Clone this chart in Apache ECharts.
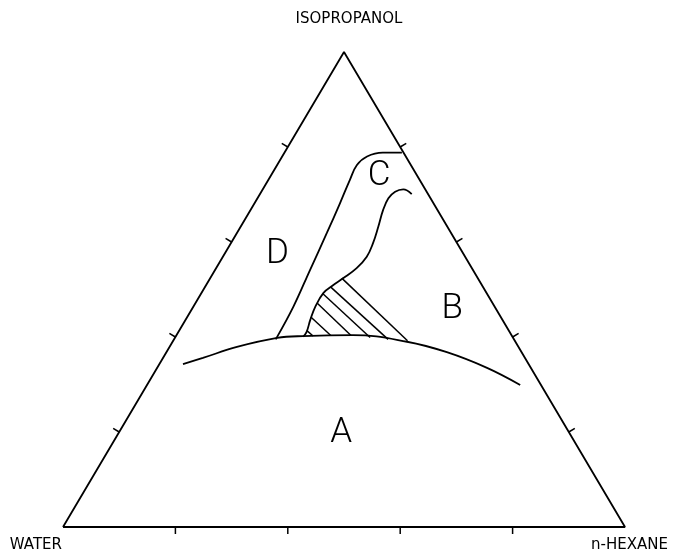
<!DOCTYPE html>
<html>
<head>
<meta charset="utf-8">
<title>Isopropanol / water / n-hexane phase diagram</title>
<script src="https://cdn.jsdelivr.net/npm/echarts@6/dist/echarts.min.js"></script>
<style>
  html, body { margin: 0; padding: 0; background: #ffffff; }
  #chart { width: 679px; height: 557px; }
</style>
</head>
<body>
<div id="chart"></div>
<script>
// Compositions are given as [n-hexane %, isopropanol %]; water is the remainder.
const vertexNames = ['WATER', 'n-HEXANE', 'ISOPROPANOL'];
const vertexComps = [[0, 0], [100, 0], [0, 100]];
const tickValues = [20, 40, 60, 80];

// Lower two-phase boundary (binodal), water side to hexane side
const binodal = [
  [4.2, 34.3], [7.1, 35.6], [12.0, 37.9], [18.2, 39.8], [22.6, 40.2],
  [31.4, 40.4], [41.7, 39.0], [49.9, 36.8], [58.7, 33.5], [66.4, 29.9]
];

// Boundary between region D and regions C/B, from the binodal upwards
const boundaryD = [
  [18.1, 39.5], [17.8, 46.4], [16.9, 54.1], [16.0, 61.9], [15.2, 68.2],
  [14.5, 73.1], [14.2, 76.2], [15.1, 78.0], [17.5, 78.8], [20.9, 78.8]
];

// Boundary between region C and region B, down to the binodal
const boundaryC = [
  [27.0, 70.1], [25.0, 71.1], [23.8, 70.6], [23.3, 69.2], [23.6, 66.7],
  [24.5, 63.2], [25.3, 59.7], [25.6, 56.9], [25.0, 54.5], [23.7, 52.4],
  [22.6, 50.9], [21.7, 49.3], [21.7, 46.4], [22.2, 43.6], [22.8, 41.1],
  [22.7, 40.1]
];

// Straight edge of the hatched zone and its hatching strokes
const hatchEdge = [[23.4, 52.4], [41.7, 39.2]];
const hatchStrokes = [
  [[38.1, 39.5], [22.4, 50.5]],
  [[34.7, 39.9], [21.7, 49.1]],
  [[31.1, 40.3], [21.7, 47.1]],
  [[27.5, 40.3], [22.0, 44.2]],
  [[24.4, 40.2], [22.8, 41.3]]
];

// Region letters and where they sit
const regionNames = ['A', 'B', 'C', 'D'];
const regionCentres = [[39.6, 19.8], [46.3, 45.9], [19.3, 73.9], [9.4, 57.5]];

// Ternary composition -> plane coordinates (equilateral layout)
function toXY(c) {
  return [c[0] + c[1] / 2, c[1]];
}

const ink = '#000000';
const lineW = 1.8;

function curve(points, smooth) {
  return {
    type: 'line',
    data: points.map(toXY),
    smooth: smooth,
    showSymbol: false,
    symbol: 'none',
    clip: false,
    silent: true,
    lineStyle: { color: ink, width: lineW },
    z: 3
  };
}

const chart = echarts.init(document.getElementById('chart'), null, { renderer: 'canvas' });

// Tick marks: one item per [side, value]; side 0 = base, 1 = left, 2 = right
const tickItems = [];
[0, 1, 2].forEach(function (side) {
  tickValues.forEach(function (v) { tickItems.push([side, v]); });
});

function edgePoint(side, v) {
  if (side === 0) return toXY([v, 0]);
  if (side === 1) return toXY([0, v]);
  return toXY([100 - v, v]);
}
function edgeEnds(side) {
  if (side === 0) return [toXY([0, 0]), toXY([100, 0])];
  if (side === 1) return [toXY([0, 0]), toXY([0, 100])];
  return [toXY([100, 0]), toXY([0, 100])];
}

const option = {
  backgroundColor: '#ffffff',
  animation: false,
  grid: { left: 63, right: 54, top: 52, bottom: 30 },
  xAxis: { type: 'value', min: 0, max: 100, show: false },
  yAxis: { type: 'value', min: 0, max: 100, show: false },
  series: [
    // triangle frame
    {
      type: 'line',
      data: vertexComps.concat([vertexComps[0]]).map(toXY),
      showSymbol: false,
      symbol: 'none',
      clip: false,
      silent: true,
      lineStyle: { color: ink, width: lineW },
      z: 2
    },
    // ticks, pointing outwards, perpendicular to each side
    {
      type: 'custom',
      data: tickItems,
      clip: false,
      silent: true,
      renderItem: function (params, api) {
        const side = api.value(0);
        const v = api.value(1);
        const p = api.coord(edgePoint(side, v));
        const ends = edgeEnds(side);
        const a = api.coord(ends[0]);
        const b = api.coord(ends[1]);
        const g = api.coord(toXY([100 / 3, 100 / 3]));
        let nx = -(b[1] - a[1]);
        let ny = b[0] - a[0];
        const len = Math.sqrt(nx * nx + ny * ny);
        nx /= len; ny /= len;
        if ((p[0] - g[0]) * nx + (p[1] - g[1]) * ny < 0) { nx = -nx; ny = -ny; }
        const L = 7;
        return {
          type: 'line',
          shape: { x1: p[0], y1: p[1], x2: p[0] + nx * L, y2: p[1] + ny * L },
          style: { stroke: ink, lineWidth: 1.5 }
        };
      }
    },
    curve(binodal, 0.4),
    curve(boundaryD, 0.4),
    curve(boundaryC, 0.4),
    // hatched zone: straight edge plus hatching
    {
      type: 'lines',
      coordinateSystem: 'cartesian2d',
      polyline: false,
      silent: true,
      clip: false,
      data: [{ coords: hatchEdge.map(toXY) }].concat(
        hatchStrokes.map(function (s) { return { coords: s.map(toXY) }; })
      ),
      lineStyle: { color: ink, width: 1.5, opacity: 1 },
      z: 3
    },
    // region letters
    {
      type: 'scatter',
      symbolSize: 0,
      silent: true,
      clip: false,
      itemStyle: { opacity: 1 },
      data: regionNames.map(function (n, k) {
        return { name: n, value: toXY(regionCentres[k]) };
      }),
      label: {
        show: true,
        position: 'inside',
        formatter: '{b}',
        color: ink,
        opacity: 1,
        fontFamily: 'Roboto',
        fontWeight: 300,
        fontSize: 35
      },
      z: 4
    },
    // component names at the corners
    {
      type: 'scatter',
      symbolSize: 0,
      silent: true,
      clip: false,
      itemStyle: { opacity: 1 },
      data: [
        { name: vertexNames[0], value: toXY(vertexComps[0]),
          label: { align: 'right', offset: [-1, 18] } },
        { name: vertexNames[1], value: toXY(vertexComps[1]),
          label: { align: 'right', offset: [43, 18] } },
        { name: vertexNames[2], value: toXY(vertexComps[2]),
          label: { align: 'center', offset: [5, -33] } }
      ],
      label: {
        show: true,
        position: 'inside',
        verticalAlign: 'middle',
        formatter: '{b}',
        color: ink,
        opacity: 1,
        fontFamily: 'DejaVu Sans',
        fontSize: 15
      },
      z: 4
    }
  ]
};

chart.setOption(option);
</script>
</body>
</html>
